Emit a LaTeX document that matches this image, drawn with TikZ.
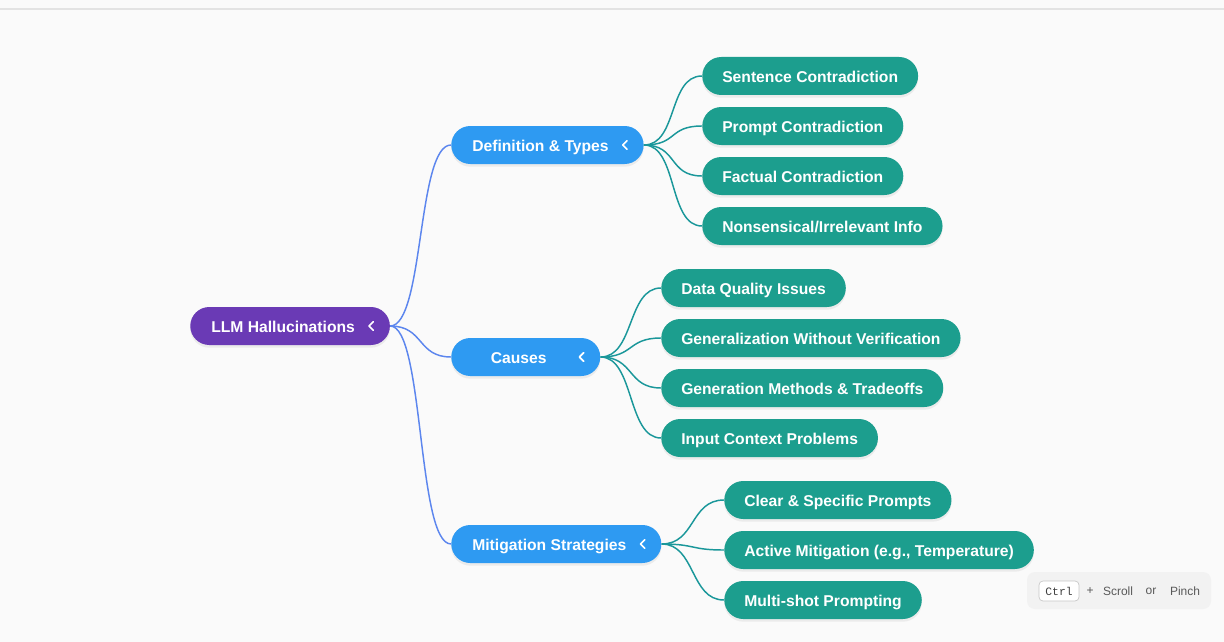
\documentclass[tikz,border=0pt]{standalone}
\usepackage{fontspec}
\setmainfont{Liberation Sans}
\setmonofont{Liberation Mono}
\usetikzlibrary{shadows}
\definecolor{bgcol}{HTML}{FAFAFA}
\definecolor{rootcol}{HTML}{6A3AB5}
\definecolor{bluecol}{HTML}{2E9AF2}
\definecolor{tealcol}{HTML}{1C9E8E}
\definecolor{blueedge}{HTML}{5C86EE}
\definecolor{tealedge}{HTML}{1A979A}
\newcommand{\chevgap}{\kern10.5pt}
\tikzset{
  pill/.style={anchor=west, text=white, rounded corners=14.25pt,
    minimum height=28.5pt, inner xsep=15.75pt, inner ysep=0pt,
    text height=9.6pt, text depth=0pt,
    font=\fontsize{11.75}{14}\selectfont\bfseries,
    drop shadow={opacity=0.12, shadow xshift=0pt, shadow yshift=-2pt}},
  rootnode/.style={pill, fill=rootcol},
  topic/.style={pill, fill=bluecol},
  leaf/.style={pill, fill=tealcol, inner xsep=15pt},
  chev/.style={white, line width=1.3pt, line cap=round, line join=round},
  blueline/.style={blueedge, line width=1.1pt},
  tealline/.style={tealedge, line width=1.1pt},
}
\begin{document}
\begin{tikzpicture}[x=0.75pt, y=-0.75pt]
  \useasboundingbox (0,0) rectangle (1224,642);
  \fill[bgcol] (0,0) rectangle (1224,642);
  \draw[black!11, line width=0.9pt] (0,9) -- (1224,9);
  % root and topics
  \node[rootnode] (root) at (190,326) {LLM Hallucinations\chevgap};
  \node[topic] (def) at (451,145) {Definition \& Types\chevgap};
  \node[topic] (cause) at (451,357) {\makebox[69.75pt]{Causes}\chevgap};
  \node[topic] (miti) at (451,544) {Mitigation Strategies\chevgap};
  % leaves
  \node[leaf] (sent) at (702,76) {Sentence Contradiction};
  \node[leaf] (prompt) at (702,126) {Prompt Contradiction};
  \node[leaf] (fact) at (702,176) {Factual Contradiction};
  \node[leaf] (nonsense) at (702,226) {Nonsensical/Irrelevant Info};
  \node[leaf] (data) at (661,288) {Data Quality Issues};
  \node[leaf] (gener) at (661,338) {Generalization Without Verification};
  \node[leaf] (method) at (661,388) {Generation Methods \& Tradeoffs};
  \node[leaf] (input) at (661,438) {Input Context Problems};
  \node[leaf] (clear) at (724,500) {Clear \& Specific Prompts};
  \node[leaf] (active) at (724,550) {Active Mitigation (e.g., Temperature)};
  \node[leaf] (multi) at (724,600) {Multi-shot Prompting};
  % connectors
  \foreach \t in {def,cause,miti}
    \draw[blueline] (root.east) .. controls +(34,0) and +(-34,0) .. (\t.west);
  \foreach \t in {sent,prompt,fact,nonsense}
    \draw[tealline] (def.east) .. controls +(34,0) and +(-34,0) .. (\t.west);
  \foreach \t in {data,gener,method,input}
    \draw[tealline] (cause.east) .. controls +(34,0) and +(-34,0) .. (\t.west);
  \foreach \t in {clear,active,multi}
    \draw[tealline] (miti.east) .. controls +(34,0) and +(-34,0) .. (\t.west);
  % collapse marks
  \foreach \n in {root,def,cause,miti}
    \draw[chev] ([xshift=-14.25pt]\n.east) ++(1.6pt,3.2pt) -- ++(-3.2pt,-3.2pt) -- ++(3.2pt,-3.2pt);
  % zoom hint
  \node[fill=black!5, rounded corners=6pt, minimum width=138pt, minimum height=27.75pt] (hint) at (1119,590.5) {};
  \node[fill=white, draw=black!22, line width=0.5pt, rounded corners=3pt, minimum width=30pt, minimum height=15pt,
    inner sep=0pt, font=\fontsize{8.5}{10}\ttfamily, text=black!75] (ctrl) at (1059,591) {Ctrl};
  \node[font=\fontsize{9}{11}\selectfont, text=black!65] (plus) at (1090,591) {+};
  \node[font=\fontsize{9}{11}\selectfont, text=black!65] (scroll) at (1118,591) {Scroll};
  \node[font=\fontsize{9}{11}\selectfont, text=black!65] (or) at (1151,591) {or};
  \node[font=\fontsize{9}{11}\selectfont, text=black!65] (pinch) at (1185,591) {Pinch};
\end{tikzpicture}
\end{document}
